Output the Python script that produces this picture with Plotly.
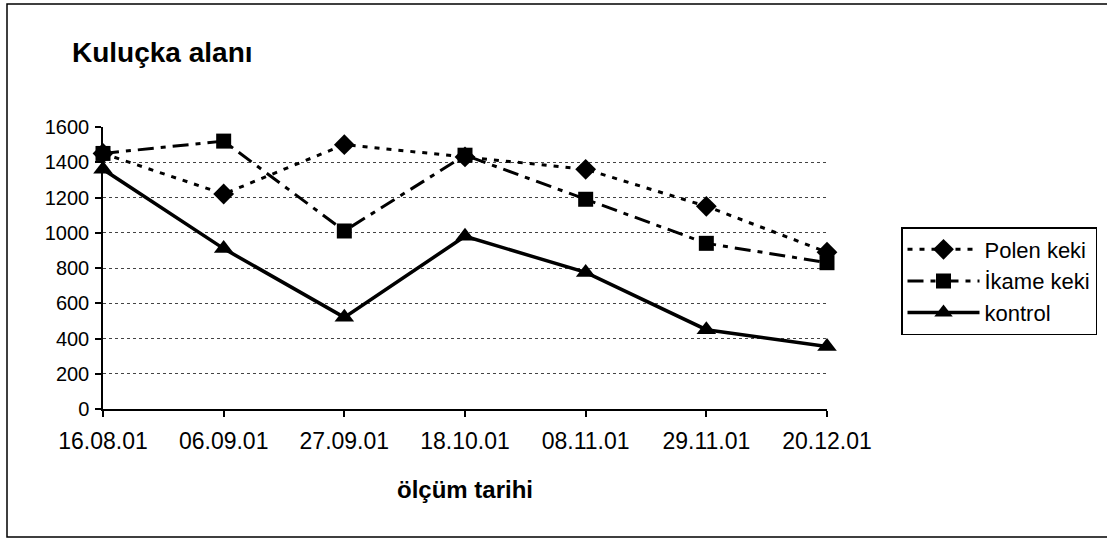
import plotly.graph_objects as go

dates = ["16.08.01", "06.09.01", "27.09.01", "18.10.01", "08.11.01", "29.11.01", "20.12.01"]
polen_keki = [1450, 1220, 1500, 1430, 1360, 1150, 890]
ikame_keki = [1450, 1520, 1010, 1440, 1190, 940, 830]
kontrol = [1360, 910, 520, 980, 775, 450, 355]

FONT = "Liberation Sans, Arial, sans-serif"
W, H = 1107, 540
L, R, T, B = 103, 827, 127, 409  # plot area in pixels


def px_x(p):
    return (p - L) / (R - L)


def px_y(p):
    return (B - p) / (B - T)


fig = go.Figure()
fig.add_trace(go.Scatter(
    x=dates, y=polen_keki, name="Polen keki", mode="lines+markers",
    line=dict(color="black", width=3, dash="5px,7px"),
    marker=dict(symbol="diamond", size=16, color="black"),
    cliponaxis=False,
))
fig.add_trace(go.Scatter(
    x=dates, y=ikame_keki, name="İkame keki", mode="lines+markers",
    line=dict(color="black", width=3, dash="16px,7px,5px,7px"),
    marker=dict(symbol="square", size=15, color="black"),
    cliponaxis=False,
))
fig.add_trace(go.Scatter(
    x=dates, y=kontrol, name="kontrol", mode="lines+markers",
    line=dict(color="black", width=3.5),
    marker=dict(symbol="triangle-up", size=17, color="black"),
    cliponaxis=False,
))

fig.update_layout(
    width=W, height=H,
    margin=dict(l=L, r=W - R, t=T, b=H - B, autoexpand=False),
    paper_bgcolor="white", plot_bgcolor="white",
    font=dict(family=FONT, color="black", size=20),
    title=dict(
        text="<b>Kuluçka alanı</b>", font=dict(size=28, family=FONT, color="black"),
        xref="container", x=72 / W, xanchor="left",
        yref="container", y=1 - 52 / H, yanchor="middle",
    ),
    xaxis=dict(
        type="category", range=[0, len(dates) - 1],
        showline=True, linecolor="black", linewidth=1.5,
        ticks="outside", ticklen=6, tickcolor="black", tickwidth=1.5,
        showgrid=False, zeroline=False,
        tickfont=dict(size=23, family=FONT, color="black"),
        ticklabelstandoff=5,
        title=dict(text="<b>ölçüm tarihi</b>", font=dict(size=24, family=FONT, color="black"), standoff=28),
    ),
    yaxis=dict(
        range=[0, 1600], dtick=200,
        showline=True, linecolor="black", linewidth=1.5,
        ticks="outside", ticklen=6, tickcolor="black", tickwidth=1.5,
        showgrid=True, gridcolor="#444444", gridwidth=1, griddash="dot",
        zeroline=False,
        tickfont=dict(size=20, family=FONT, color="black"),
        ticklabelstandoff=2,
    ),
    legend=dict(
        x=px_x(901), y=px_y(227), xanchor="left", yanchor="top",
        bordercolor="black", borderwidth=1.5, bgcolor="white",
        font=dict(size=22, family=FONT, color="black"),
        itemwidth=72, tracegroupgap=0,
    ),
    shapes=[dict(
        type="rect", xref="paper", yref="paper",
        x0=px_x(7), x1=px_x(1130), y0=px_y(537), y1=px_y(4),
        line=dict(color="black", width=1.5), layer="below",
    )],
)

fig.write_html(
    "out.html",
    config={"displayModeBar": False},
    post_script="document.body.style.margin='0';document.body.style.overflow='hidden';",
)
